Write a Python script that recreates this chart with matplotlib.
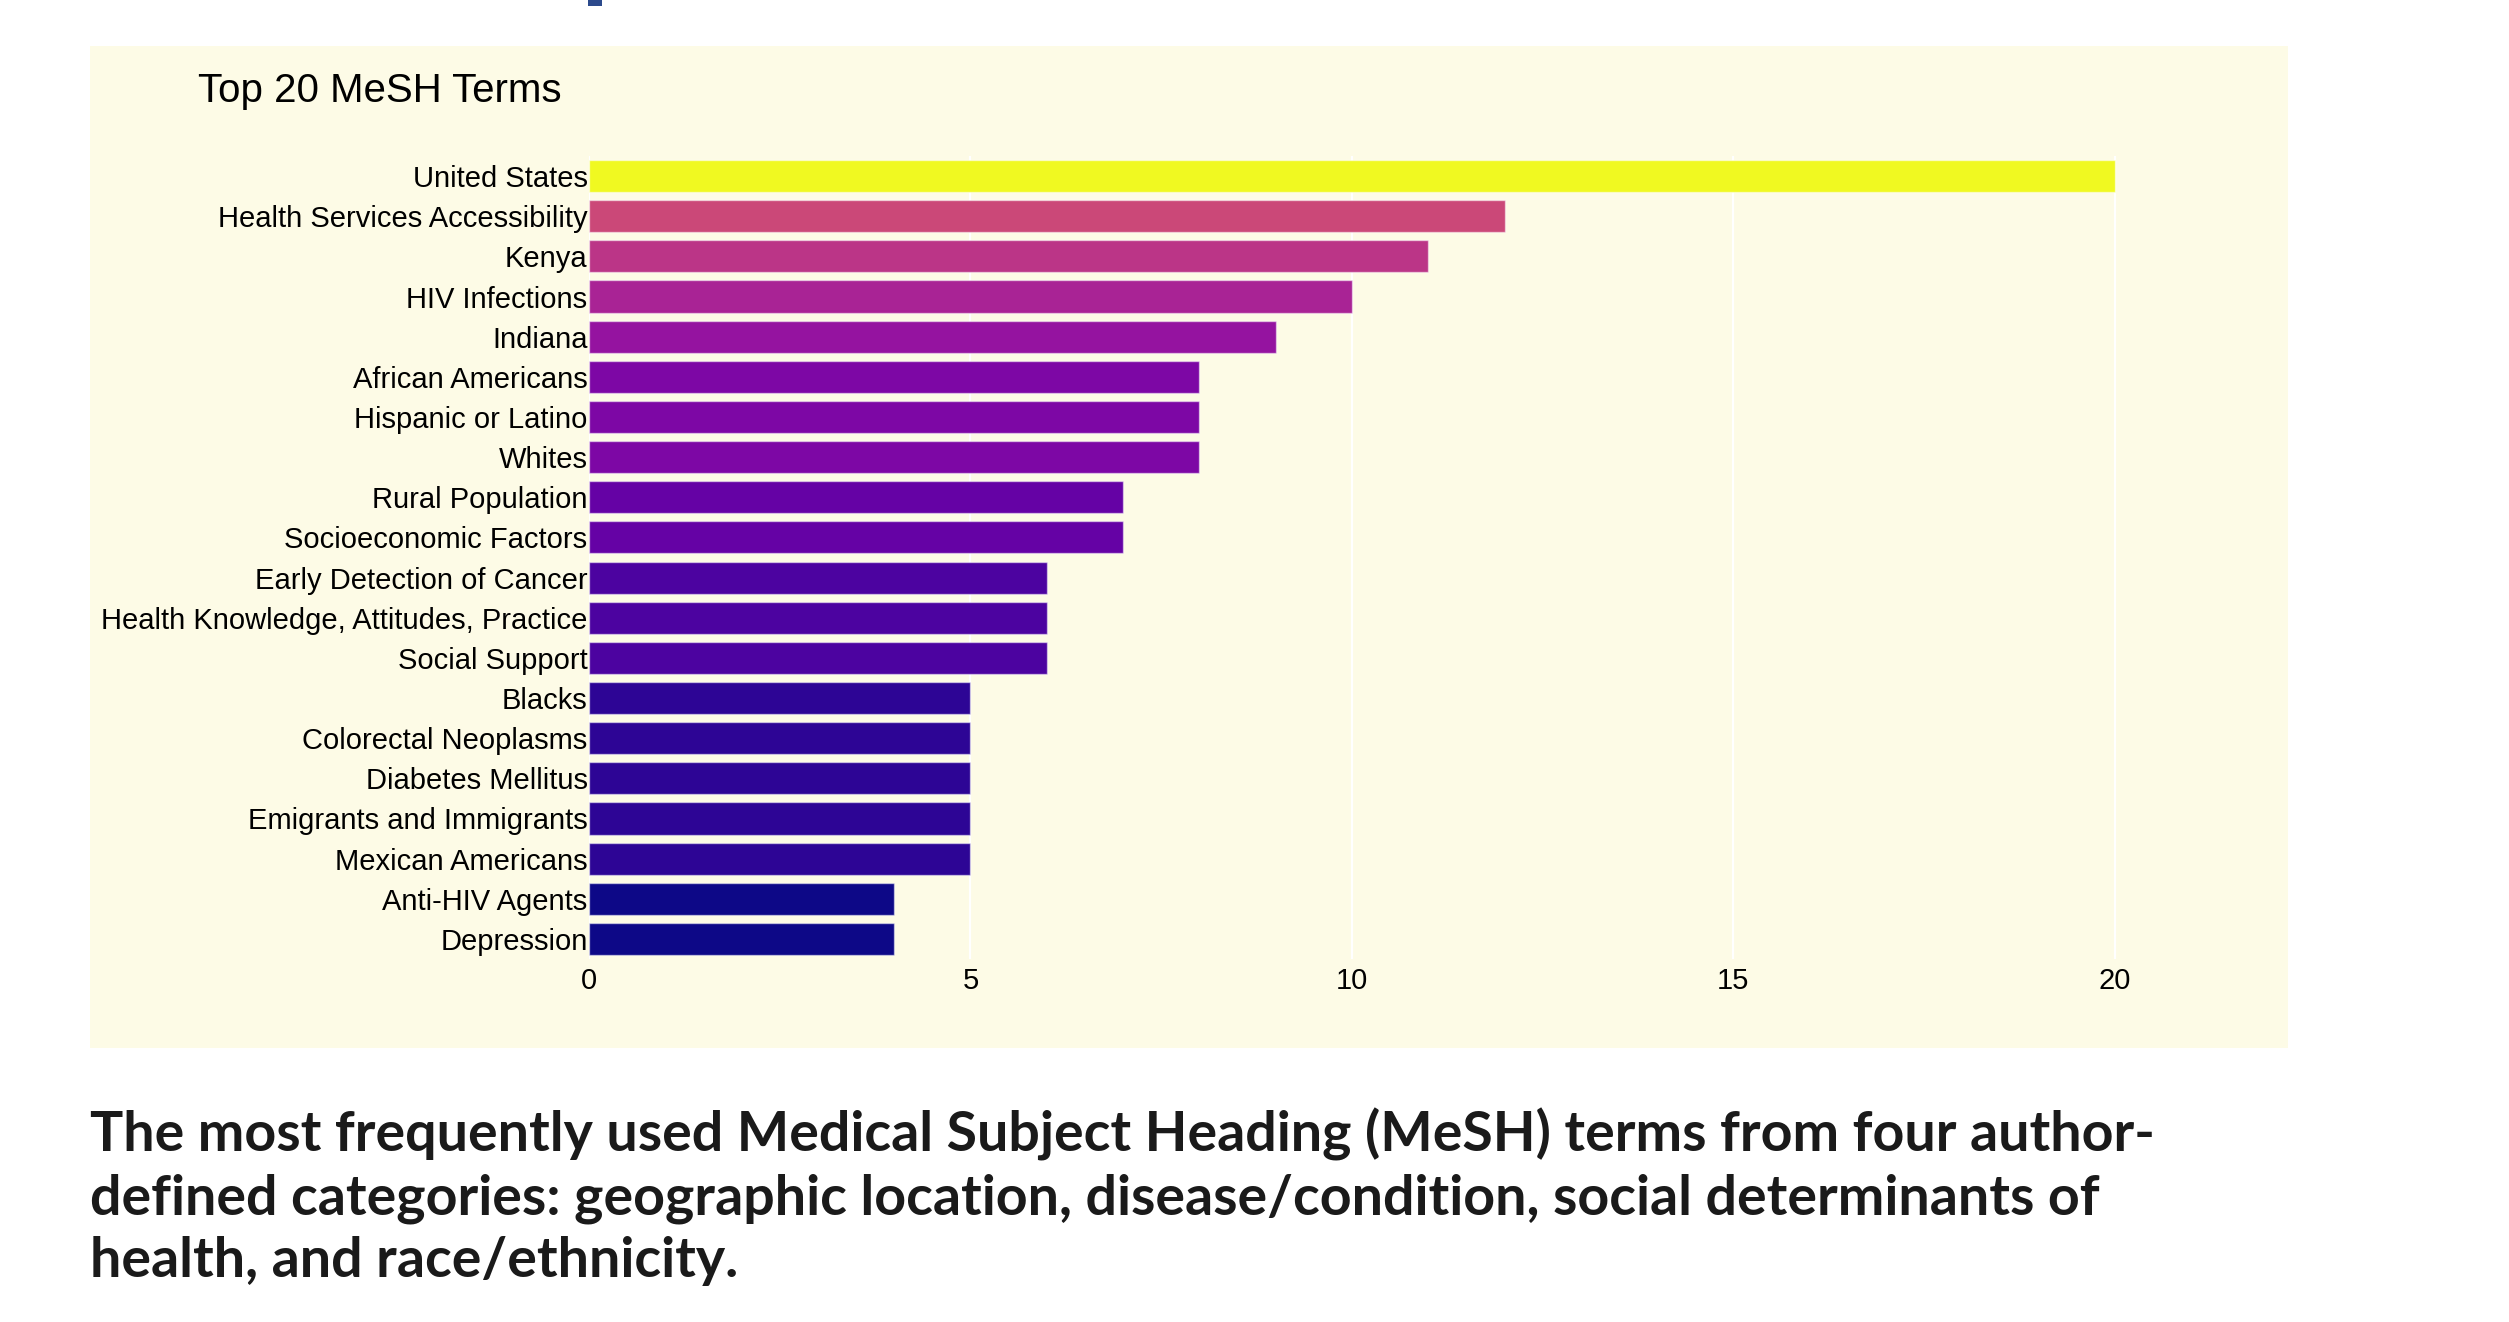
import matplotlib
matplotlib.use("Agg")
import matplotlib.pyplot as plt
import matplotlib.colors as mcolors
from matplotlib.patches import Rectangle

terms = ["United States", "Health Services Accessibility", "Kenya", "HIV Infections",
         "Indiana", "African Americans", "Hispanic or Latino", "Whites",
         "Rural Population", "Socioeconomic Factors", "Early Detection of Cancer",
         "Health Knowledge, Attitudes, Practice", "Social Support", "Blacks",
         "Colorectal Neoplasms", "Diabetes Mellitus", "Emigrants and Immigrants",
         "Mexican Americans", "Anti-HIV Agents", "Depression"]
counts = [20, 12, 11, 10, 9, 8, 8, 8, 7, 7, 6, 6, 6, 5, 5, 5, 5, 5, 4, 4]
x_ticks = [0, 5, 10, 15, 20]

title = "Top 20 MeSH Terms"
caption = ("The most frequently used Medical Subject Heading (MeSH) terms from four author-\n"
           "defined categories: geographic location, disease/condition, social determinants of\n"
           "health, and race/ethnicity.")

# plotly's Plasma scale
plasma = mcolors.LinearSegmentedColormap.from_list(
    "plotly_plasma",
    ["#0d0887", "#46039f", "#7201a8", "#9c179e", "#bd3786",
     "#d8576b", "#ed7953", "#fb9f3a", "#fdca26", "#f0f921"])
norm = mcolors.Normalize(vmin=min(counts), vmax=max(counts))
bar_colors = [plasma(norm(v)) for v in counts]

W, H = 2509, 1322
fig = plt.figure(figsize=(W / 100, H / 100), dpi=100)
fig.patch.set_facecolor("white")

cream = "#fdfbe6"
# panel background
fig.patches.append(Rectangle((90 / W, 1 - 1048 / H), (2288 - 90) / W, (1048 - 46) / H,
                             transform=fig.transFigure, facecolor=cream,
                             edgecolor="none", zorder=0))
# small cut-off mark at the top
fig.patches.append(Rectangle((588 / W, 1 - 6 / H), 14 / W, 6 / H,
                             transform=fig.transFigure, facecolor="#2c4a8c",
                             edgecolor="none", zorder=0))

ax = fig.add_axes([589 / W, 1 - 959 / H, 1606 / W, 803 / H])
ax.set_zorder(2)
ax.set_facecolor(cream)
ax.patch.set_alpha(0)

y = list(range(len(terms)))
ax.barh(y, counts, height=0.8, color=bar_colors, edgecolor=(1, 1, 1, 0.5),
        linewidth=1, zorder=3)
ax.set_ylim(len(terms) - 0.5, -0.5)
ax.set_xlim(0, 21.05)

ax.set_yticks(y)
ax.set_yticklabels(terms, fontsize=21, family="Liberation Sans")
ax.set_xticks(x_ticks)
ax.set_xticklabels([str(t) for t in x_ticks], fontsize=21, family="Liberation Sans")
ax.tick_params(axis="both", length=0)
ax.tick_params(axis="y", pad=1)
ax.tick_params(axis="x", pad=6)
for s in ax.spines.values():
    s.set_visible(False)
ax.grid(axis="x", color="white", linewidth=1.5, zorder=0)
ax.set_axisbelow(True)

fig.text(198 / W, 1 - 91 / H, title, fontsize=29, family="Liberation Sans",
         va="center", ha="left", zorder=3)

fig.text(90 / W, 1 - 1108 / H, caption, fontsize=40, family="Lato",
         fontweight="bold", va="top", ha="left", linespacing=1.3,
         color="#1a1a1a", zorder=3)

fig.savefig("out.png", dpi=100, facecolor="white")
